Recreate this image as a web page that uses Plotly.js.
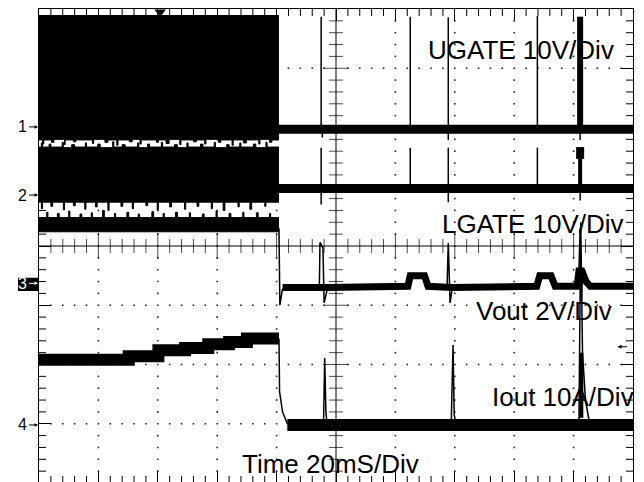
<!DOCTYPE html>
<html>
<head>
<meta charset="utf-8">
<script src="https://cdn.plot.ly/plotly-3.0.1.min.js"></script>
<style>
html,body{margin:0;padding:0;overflow:hidden;background:#fff;}
#chart{width:644px;height:490px;}
</style>
</head>
<body>
<div id="chart"></div>
<script>
// Units: horizontal = divisions (20 ms/div), vertical = divisions of the scope screen.

// ---- Switching burst (before shutdown) ----
const ugBurstTopT = [0, 4.04];
const ugBurstTopV = [3.89, 3.89];
const ugBurstLoT = [0, 0.06, 0.08, 0.21, 0.25, 0.43, 0.44, 0.58, 0.62, 0.9, 0.92, 1.11, 1.16, 1.31, 1.33, 1.52, 1.57, 1.7, 1.72, 1.98, 2.01, 2.14, 2.19, 2.37, 2.39, 2.6, 2.65, 2.79, 2.81, 3.02, 3.06, 3.25, 3.27, 3.44, 3.49, 3.7, 3.72, 3.88, 3.92, 4.04];
const ugBurstLoV = [1.79, 1.72, 1.79, 1.75, 1.80, 1.71, 1.79, 1.76, 1.79, 1.73, 1.80, 1.75, 1.79, 1.70, 1.79, 1.76, 1.80, 1.72, 1.79, 1.75, 1.79, 1.73, 1.80, 1.71, 1.79, 1.76, 1.79, 1.72, 1.80, 1.75, 1.79, 1.70, 1.79, 1.74, 1.79, 1.72, 1.80, 1.75, 1.79, 1.79];

const lgBurstTopT = [0, 0.04, 0.06, 0.17, 0.2, 0.39, 0.41, 0.55, 0.6, 0.78, 0.8, 0.99, 1.03, 1.24, 1.26, 1.4, 1.45, 1.66, 1.68, 1.83, 1.86, 2.06, 2.08, 2.28, 2.33, 2.49, 2.51, 2.72, 2.76, 2.95, 2.97, 3.16, 3.2, 3.38, 3.4, 3.61, 3.65, 3.82, 3.84, 4.04];
const lgBurstTopV = [1.67, 1.74, 1.67, 1.72, 1.67, 1.75, 1.66, 1.71, 1.67, 1.74, 1.67, 1.72, 1.66, 1.76, 1.67, 1.71, 1.67, 1.74, 1.66, 1.72, 1.67, 1.75, 1.67, 1.71, 1.66, 1.74, 1.67, 1.72, 1.67, 1.75, 1.66, 1.71, 1.67, 1.74, 1.67, 1.72, 1.66, 1.75, 1.67, 1.67];
const lgBurstLoT = [0, 0.04, 0.06, 0.2, 0.23, 0.41, 0.43, 0.58, 0.61, 0.77, 0.79, 0.95, 0.98, 1.16, 1.18, 1.38, 1.41, 1.57, 1.59, 1.8, 1.83, 1.99, 2.01, 2.2, 2.23, 2.45, 2.47, 2.66, 2.69, 2.9, 2.92, 3.1, 3.13, 3.35, 3.37, 3.55, 3.58, 3.8, 3.82, 4.04];
const lgBurstLoV = [0.74, 0.63, 0.74, 0.67, 0.74, 0.61, 0.74, 0.68, 0.74, 0.62, 0.74, 0.66, 0.74, 0.60, 0.74, 0.67, 0.74, 0.63, 0.74, 0.68, 0.74, 0.61, 0.74, 0.66, 0.74, 0.62, 0.74, 0.67, 0.74, 0.63, 0.74, 0.60, 0.74, 0.66, 0.74, 0.62, 0.74, 0.67, 0.74, 0.74];

const voBurstTopT = [0, 0.13, 0.15, 0.31, 0.34, 0.5, 0.52, 0.69, 0.72, 0.88, 0.9, 1.07, 1.1, 1.27, 1.29, 1.48, 1.51, 1.67, 1.69, 1.9, 1.93, 2.09, 2.11, 2.3, 2.33, 2.53, 2.55, 2.75, 2.78, 2.98, 3.0, 3.2, 3.23, 3.43, 3.45, 3.66, 3.69, 3.88, 3.9, 4.04];
const voBurstTopV = [0.48, 0.57, 0.48, 0.55, 0.48, 0.59, 0.48, 0.54, 0.48, 0.56, 0.48, 0.60, 0.48, 0.55, 0.48, 0.57, 0.48, 0.54, 0.48, 0.58, 0.48, 0.55, 0.48, 0.57, 0.48, 0.56, 0.48, 0.54, 0.48, 0.59, 0.48, 0.55, 0.48, 0.57, 0.48, 0.56, 0.48, 0.55, 0.48, 0.48];
const voBurstLoT = [0, 4.04];
const voBurstLoV = [0.24, 0.24];

const ioBurstT = [0, 1.51, 2.01, 2.46, 2.85, 3.20, 3.50, 4.04];
const ioBurstV = [-1.92, -1.86, -1.76, -1.72, -1.66, -1.62, -1.56, -1.56];

// ---- After shutdown ----
const ugPostT = [4.04, 10];
const ugPostV = [1.97, 1.97];
const ugSpikeT = [4.75, 4.75, null, 4.77, 4.77, null, 6.25, 6.25, null, 6.89, 6.89, null, 8.39, 8.39, null, 9.11, 9.11];
const ugSpikeV = [3.87, 1.97, null, 1.97, 1.83, null, 3.87, 1.97, null, 3.86, 1.79, null, 3.88, 1.97, null, 1.97, 1.79];
const ugBigSpikeT = [9.11, 9.11];
const ugBigSpikeV = [3.87, 1.93];

const lgPostT = [4.04, 10];
const lgPostV = [0.97, 0.97];
const lgSpikeT = [4.75, 4.75, null, 6.25, 6.25, null, 6.89, 6.89, null, 8.39, 8.39, null, 9.11, 9.11];
const lgSpikeV = [1.66, 0.70, null, 1.66, 0.97, null, 1.66, 0.74, null, 1.66, 0.97, null, 0.97, 0.77];
const lgBigSpikeT = [9.11, 9.11];
const lgBigSpikeV = [1.67, 1.47];
const lgMidSpikeT = [9.11, 9.11];
const lgMidSpikeV = [1.47, 0.97];

const voBandT = [4.10, 4.72, 4.86, 6.21, 6.25, 6.49, 6.55, 6.96, 8.38, 8.43, 8.62, 8.69, 9.06, 9.09, 9.14, 9.21, 9.28, 10];
const voBandV = [-0.70, -0.68, -0.70, -0.68, -0.50, -0.50, -0.68, -0.70, -0.68, -0.50, -0.50, -0.68, -0.68, -0.42, -0.42, -0.60, -0.68, -0.68];
const voSpikeT = [4.04, 4.055, 4.10, null, 4.72, 4.73, 4.78, 4.80, 4.86, null, 6.87, 6.89, 6.92, 6.96, null, 9.09, 9.11, 9.13, 9.15];
const voSpikeV = [0.30, -1.00, -0.72, null, -0.68, 0.06, -0.03, -0.96, -0.70, null, -0.68, 0.05, -0.96, -0.70, null, -0.42, 0.30, -0.98, -0.45];

const ioBandT = [4.18, 10];
const ioBandV = [-3.02, -3.02];
const ioSpikeT = [4.04, 4.05, 4.10, 4.18, null, 4.79, 4.81, 4.83, 4.85, null, 6.94, 6.97, 6.99, 7.02, null, 9.09, 9.12, 9.15, 9.20, 9.27];
const ioSpikeV = [-1.56, -2.46, -2.80, -3.00, null, -3.00, -1.89, -2.80, -3.00, null, -3.00, -1.67, -2.85, -3.00, null, -3.00, 0.40, -1.80, -2.60, -3.00];
const ioMidSpikeT = [9.13, 9.13];
const ioMidSpikeV = [-1.80, -2.90];

// ---- Labels ----
const chLabels = ['1', '2', '3', '4'];
const chGround = [2.01, 0.86, -0.63, -3.02];
const chTitles = ['UGATE 10V/Div', 'LGATE 10V/Div', 'Vout 2V/Div', 'Iout 10A/Div', 'Time 20mS/Div'];
const chTitleX = [8.11, 8.32, 8.50, 8.82, 4.90];
const chTitleY = [3.31, 0.363, -1.105, -2.556, -3.68];
const trigPosX = [2.04];
const trigPosY = [3.95];
const trigLevel = [-1.70];

// ---- Graticule (decoration): center-line ticks, border minor ticks, dotted grid ----
const hTickX = [], hTickY = [], hTickS = [];
for (let i = 1; i < 50; i++) { if (i === 25) continue; hTickX.push(i * 0.2); hTickY.push(0); hTickS.push(i % 5 === 0 ? 18 : 10); }
const vTickX = [], vTickY = [], vTickS = [];
for (let j = -19; j <= 19; j++) { if (j === 0) continue; vTickX.push(5); vTickY.push(j * 0.2); vTickS.push(j % 5 === 0 ? 18 : 10); }
const bTickHX = [], bTickHY = [];
for (let i = 1; i < 50; i++) { if (i % 5 === 0) continue; bTickHX.push(i * 0.2, i * 0.2); bTickHY.push(-4, 4); }
const bTickVX = [], bTickVY = [];
for (let j = -19; j <= 19; j++) { if (j % 5 === 0) continue; bTickVX.push(0, 10); bTickVY.push(j * 0.2, j * 0.2); }
const dotX = [], dotY = [];
for (let g = 1; g <= 9; g++) { if (g === 5) continue; for (let j = -19; j <= 19; j++) { dotX.push(g); dotY.push(j * 0.2); } }
for (let g = -3; g <= 3; g++) { if (g === 0) continue; for (let i = 1; i < 50; i++) { if (i % 5 === 0) continue; dotX.push(i * 0.2); dotY.push(g); } }

const K = 'black';
const base = {type: 'scatter', mode: 'lines', hoverinfo: 'skip', showlegend: false};
const mk = (x, y, marker) => ({type: 'scatter', mode: 'markers', x: x, y: y, marker: marker, hoverinfo: 'skip', showlegend: false});
const traces = [
  mk(dotX, dotY, {symbol: 'square', size: 1.6, color: '#222', line: {width: 0}}),
  mk(hTickX, hTickY, {symbol: 'line-ns', size: hTickS, line: {color: K, width: 1}}),
  mk(vTickX, vTickY, {symbol: 'line-ew', size: vTickS, line: {color: K, width: 1}}),
  mk(bTickHX, bTickHY, {symbol: 'line-ns', size: 10, line: {color: K, width: 1}}),
  mk(bTickVX, bTickVY, {symbol: 'line-ew', size: 10, line: {color: K, width: 1}}),
  // UGATE burst
  Object.assign({}, base, {x: ugBurstLoT, y: ugBurstLoV, line: {color: K, width: 1, shape: 'hv'}}),
  Object.assign({}, base, {x: ugBurstTopT, y: ugBurstTopV, line: {color: K, width: 1, shape: 'hv'}, fill: 'tonexty', fillcolor: K}),
  // LGATE burst
  Object.assign({}, base, {x: lgBurstLoT, y: lgBurstLoV, line: {color: K, width: 1, shape: 'hv'}}),
  Object.assign({}, base, {x: lgBurstTopT, y: lgBurstTopV, line: {color: K, width: 1, shape: 'hv'}, fill: 'tonexty', fillcolor: K}),
  // Vout burst
  Object.assign({}, base, {x: voBurstLoT, y: voBurstLoV, line: {color: K, width: 1, shape: 'hv'}}),
  Object.assign({}, base, {x: voBurstTopT, y: voBurstTopV, line: {color: K, width: 1, shape: 'hv'}, fill: 'tonexty', fillcolor: K}),
  // Iout before shutdown
  Object.assign({}, base, {x: ioBurstT, y: ioBurstV, line: {color: K, width: 12, shape: 'hv'}}),
  // post-shutdown bands
  Object.assign({}, base, {x: ugPostT, y: ugPostV, line: {color: K, width: 9}}),
  Object.assign({}, base, {x: lgPostT, y: lgPostV, line: {color: K, width: 9}}),
  Object.assign({}, base, {x: voBandT, y: voBandV, line: {color: K, width: 7}}),
  Object.assign({}, base, {x: ioBandT, y: ioBandV, line: {color: K, width: 12}}),
  // spikes
  Object.assign({}, base, {x: ugSpikeT, y: ugSpikeV, line: {color: K, width: 1.5}}),
  Object.assign({}, base, {x: ugBigSpikeT, y: ugBigSpikeV, line: {color: K, width: 6}}),
  Object.assign({}, base, {x: lgSpikeT, y: lgSpikeV, line: {color: K, width: 1.5}}),
  Object.assign({}, base, {x: lgBigSpikeT, y: lgBigSpikeV, line: {color: K, width: 8}}),
  Object.assign({}, base, {x: lgMidSpikeT, y: lgMidSpikeV, line: {color: K, width: 4}}),
  Object.assign({}, base, {x: voSpikeT, y: voSpikeV, line: {color: K, width: 1.5}}),
  Object.assign({}, base, {x: ioSpikeT, y: ioSpikeV, line: {color: K, width: 1.5}}),
  Object.assign({}, base, {x: ioMidSpikeT, y: ioMidSpikeV, line: {color: K, width: 4}}),
  // trigger position marker
  {type: 'scatter', mode: 'markers', x: trigPosX, y: trigPosY, marker: {symbol: 'triangle-down', size: 10, color: K}, cliponaxis: false, hoverinfo: 'skip', showlegend: false}
];

const FONT = 'Liberation Sans, Arial, sans-serif';
const annotations = [];
chTitles.forEach((t, i) => {
  annotations.push({x: chTitleX[i], y: chTitleY[i], xref: 'x', yref: 'y', text: t, showarrow: false,
    xanchor: 'center', yanchor: 'middle', font: {family: FONT, size: 26, color: K}});
});
chLabels.forEach((t, i) => {
  const inv = (t === '3');
  annotations.push({x: -0.0017, y: chGround[i], xref: 'paper', yref: 'y', text: t, showarrow: true,
    ax: -15, ay: 0, arrowhead: 2, arrowsize: 0.7, arrowwidth: 1, arrowcolor: inv ? 'white' : K,
    standoff: 0, font: {family: FONT, size: 16, color: inv ? 'white' : K}});
});
annotations.push({x: 9.74, y: trigLevel[0], xref: 'x', yref: 'y', text: '', showarrow: true,
  ax: 11, ay: 0, arrowhead: 2, arrowsize: 0.8, arrowwidth: 1, arrowcolor: K, standoff: 0});

const axisCommon = {
  showgrid: false, dtick: 1, tick0: 0,
  ticks: 'inside', ticklen: 12, tickwidth: 1, tickcolor: K, showticklabels: false,
  showline: true, linecolor: K, linewidth: 1, mirror: 'allticks', zeroline: false, fixedrange: true
};
const layout = {
  width: 644, height: 490, autosize: false,
  margin: {l: 39, r: 11, t: 9, b: 7, pad: 0},
  paper_bgcolor: 'white', plot_bgcolor: 'white',
  showlegend: false,
  xaxis: Object.assign({}, axisCommon, {range: [0, 10]}),
  yaxis: Object.assign({}, axisCommon, {range: [-4, 4]}),
  shapes: [
    {type: 'line', xref: 'x', yref: 'y', x0: 5, x1: 5, y0: -4, y1: 4, line: {color: K, width: 1}, layer: 'below'},
    {type: 'line', xref: 'x', yref: 'y', x0: 0, x1: 10, y0: 0, y1: 0, line: {color: K, width: 1}, layer: 'below'},
    {type: 'rect', xref: 'paper', yref: 'paper', x0: -0.0354, x1: -0.0008, y0: 0.405, y1: 0.433, fillcolor: K, line: {width: 0}, layer: 'below'}
  ],
  annotations: annotations
};
Plotly.newPlot('chart', traces, layout, {displayModeBar: false, staticPlot: true});
</script>
</body>
</html>
